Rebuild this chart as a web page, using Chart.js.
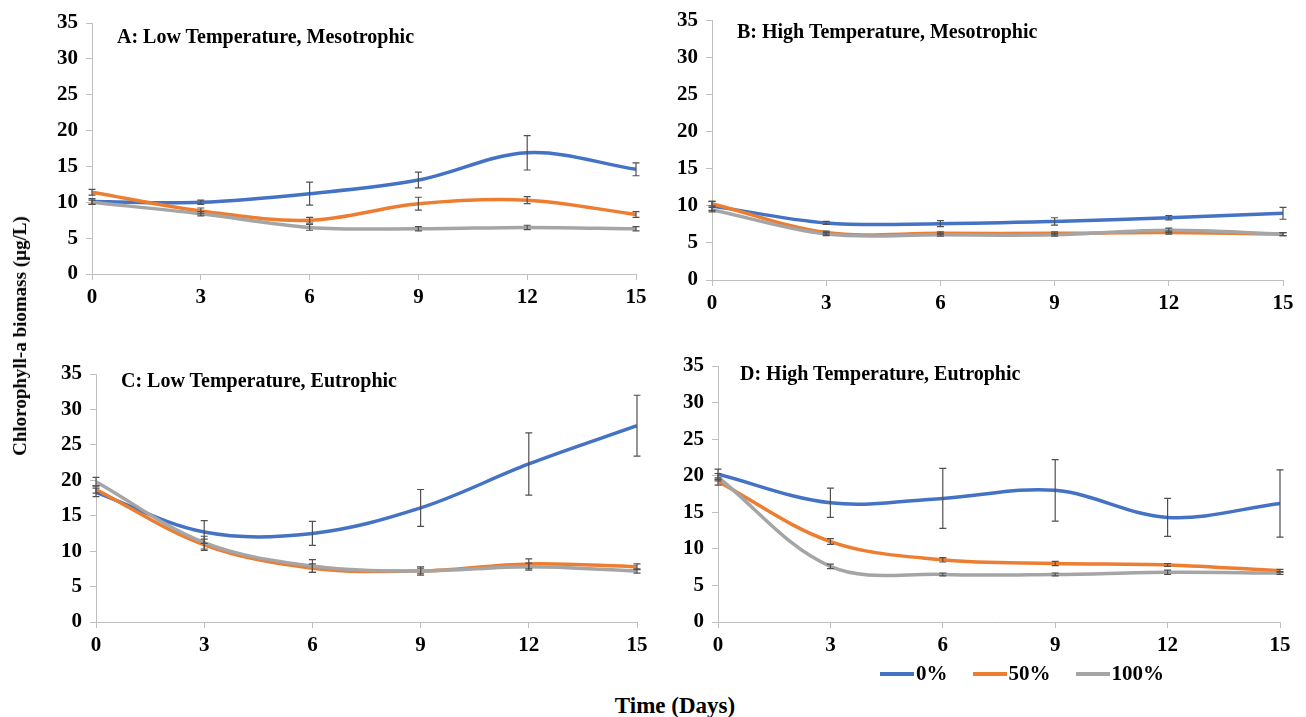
<!DOCTYPE html>
<html>
<head>
<meta charset="utf-8">
<script src="https://cdn.jsdelivr.net/npm/chart.js@4.4.1/dist/chart.umd.min.js"></script>
<style>
  body { margin: 0; background: #fff; width: 1306px; height: 717px; position: relative; overflow: hidden;
         font-family: "Liberation Serif", "Times New Roman", serif; font-weight: bold; color: #000; }
  .panel { position: absolute; }
  .ptitle { position: absolute; font-size: 20px; white-space: nowrap; }
  #ytitle { position: absolute; left: 20px; top: 336px; font-size: 19px; white-space: nowrap;
            transform: translate(-50%, -50%) rotate(-90deg); }
  #xtitle { position: absolute; left: 675px; top: 706px; font-size: 23px; white-space: nowrap;
            transform: translate(-50%, -50%); }
  #legend { position: absolute; left: 880px; top: 661px; font-size: 21px; display: flex; align-items: center; }
  #legend .sw { display: inline-block; width: 34px; height: 4px; margin-right: 2px; }
  #legend .it { display: flex; align-items: center; margin-right: 25px; }
</style>
</head>
<body>
<div class="panel" id="pA" style="left:30px;top:0px;width:630px;height:310px"><canvas id="cA"></canvas></div>
<div class="panel" id="pB" style="left:650px;top:0px;width:656px;height:310px"><canvas id="cB"></canvas></div>
<div class="panel" id="pC" style="left:30px;top:340px;width:630px;height:320px"><canvas id="cC"></canvas></div>
<div class="panel" id="pD" style="left:650px;top:340px;width:656px;height:320px"><canvas id="cD"></canvas></div>

<div class="ptitle" style="left:117px;top:25px">A: Low Temperature, Mesotrophic</div>
<div class="ptitle" style="left:737px;top:20px">B: High Temperature, Mesotrophic</div>
<div class="ptitle" style="left:121px;top:369px">C: Low Temperature, Eutrophic</div>
<div class="ptitle" style="left:740px;top:362px">D: High Temperature, Eutrophic</div>

<div id="ytitle">Chlorophyll-a biomass (µg/L)</div>
<div id="xtitle">Time (Days)</div>
<div id="legend"></div>

<script>
// jours d'échantillonnage
const days = [0, 3, 6, 9, 12, 15];
const seriesNames = ['0%', '50%', '100%'];
const seriesColors = ['#4472C4', '#ED7D31', '#A5A5A5'];
const yTicks = [0, 5, 10, 15, 20, 25, 30, 35];

// A : basse température, mésotrophe
const A_0 = [10.1, 10.0, 11.2, 13.1, 16.9, 14.6];
const A_0err = [0.4, 0.3, 1.6, 1.1, 2.4, 0.9];
const A_50 = [11.4, 8.8, 7.5, 9.8, 10.3, 8.3];
const A_50err = [0.4, 0.4, 0.4, 0.9, 0.5, 0.4];
const A_100 = [10.0, 8.4, 6.5, 6.3, 6.5, 6.3];
const A_100err = [0.3, 0.3, 0.4, 0.3, 0.3, 0.3];

// B : haute température, mésotrophe
const B_0 = [10.0, 7.7, 7.6, 7.9, 8.4, 9.0];
const B_0err = [0.6, 0.2, 0.4, 0.5, 0.3, 0.8];
const B_50 = [10.3, 6.4, 6.3, 6.3, 6.4, 6.2];
const B_50err = [0.3, 0.2, 0.2, 0.2, 0.2, 0.2];
const B_100 = [9.5, 6.2, 6.1, 6.1, 6.7, 6.2];
const B_100err = [0.3, 0.2, 0.2, 0.2, 0.3, 0.2];

// C : basse température, eutrophe
const C_0 = [18.3, 12.7, 12.5, 16.1, 22.3, 27.7];
const C_0err = [0.6, 1.6, 1.7, 2.6, 4.4, 4.3];
const C_50 = [18.7, 10.9, 7.6, 7.2, 8.2, 7.8];
const C_50err = [0.5, 0.8, 0.6, 0.4, 0.7, 0.4];
const C_100 = [19.8, 11.2, 7.9, 7.2, 7.8, 7.2];
const C_100err = [0.6, 0.9, 0.9, 0.6, 0.5, 0.3];

// D : haute température, eutrophe
const D_0 = [20.2, 16.3, 16.9, 18.0, 14.3, 16.2];
const D_0err = [0.7, 2.0, 4.1, 4.2, 2.6, 4.6];
const D_50 = [19.2, 11.0, 8.5, 8.0, 7.8, 7.0];
const D_50err = [0.5, 0.4, 0.3, 0.3, 0.2, 0.2];
const D_100 = [19.8, 7.6, 6.5, 6.5, 6.8, 6.7];
const D_100err = [0.5, 0.3, 0.2, 0.2, 0.3, 0.2];

const FONT = 'Liberation Serif';

// barres d'erreur dessinées par-dessus les courbes
const errorBars = {
    id: 'errorBars',
    afterDatasetsDraw(chart) {
        const ctx = chart.ctx;
        const yScale = chart.scales.y;
        ctx.save();
        ctx.strokeStyle = '#505050';
        ctx.lineWidth = 1.2;
        chart.data.datasets.forEach((ds, i) => {
            const meta = chart.getDatasetMeta(i);
            meta.data.forEach((pt, j) => {
                const v = ds.data[j].y;
                const e = ds.errors[j];
                const x = pt.x;
                const y1 = yScale.getPixelForValue(v - e);
                const y2 = yScale.getPixelForValue(v + e);
                ctx.beginPath();
                ctx.moveTo(x, y1); ctx.lineTo(x, y2);
                ctx.moveTo(x - 3.5, y1); ctx.lineTo(x + 3.5, y1);
                ctx.moveTo(x - 3.5, y2); ctx.lineTo(x + 3.5, y2);
                ctx.stroke();
            });
        });
        ctx.restore();
    }
};

function makePanel(id, vals, errs, box) {
    const datasets = vals.map((arr, i) => ({
        label: seriesNames[i],
        data: arr.map((v, j) => ({ x: days[j], y: v })),
        errors: errs[i],
        borderColor: seriesColors[i],
        borderWidth: 3.5,
        pointRadius: 0,
        tension: 0.35,
        fill: false,
        order: 3 - i
    }));

    new Chart(document.getElementById(id), {
        type: 'line',
        data: { datasets },
        options: {
            responsive: true,
            maintainAspectRatio: false,
            animation: false,
            layout: { padding: { top: box.top, right: box.right, left: 0, bottom: 0 } },
            plugins: { legend: { display: false }, tooltip: { enabled: false } },
            scales: {
                x: {
                    type: 'linear',
                    min: 0, max: 15,
                    afterBuildTicks: (s) => { s.ticks = days.map(v => ({ value: v })); },
                    border: { color: '#BFBFBF', width: 1 },
                    grid: { display: true, drawOnChartArea: false, drawTicks: true, tickLength: 6, color: '#BFBFBF' },
                    ticks: { color: '#000', padding: 5, maxRotation: 0, font: { family: FONT, size: 21, weight: 'bold' } },
                    afterFit: (s) => { s.height = box.xh; }
                },
                y: {
                    min: 0, max: 35,
                    afterBuildTicks: (s) => { s.ticks = yTicks.map(v => ({ value: v })); },
                    border: { color: '#BFBFBF', width: 1 },
                    grid: { display: true, drawOnChartArea: false, drawTicks: true, tickLength: 6, color: '#BFBFBF' },
                    ticks: { color: '#000', padding: 8, font: { family: FONT, size: 21, weight: 'bold' } },
                    afterFit: (s) => { s.width = box.yw; }
                }
            }
        },
        plugins: [errorBars]
    });
}

makePanel('cA', [A_0, A_50, A_100], [A_0err, A_50err, A_100err], { yw: 62, top: 23, right: 24, xh: 36 });
makePanel('cB', [B_0, B_50, B_100], [B_0err, B_50err, B_100err], { yw: 62, top: 20, right: 23, xh: 30 });
makePanel('cC', [C_0, C_50, C_100], [C_0err, C_50err, C_100err], { yw: 66, top: 34, right: 23, xh: 38 });
makePanel('cD', [D_0, D_50, D_100], [D_0err, D_50err, D_100err], { yw: 68, top: 26, right: 26, xh: 38 });

// légende commune
const legend = document.getElementById('legend');
seriesNames.forEach((name, i) => {
    const it = document.createElement('div');
    it.className = 'it';
    it.innerHTML = `<span class="sw" style="background:${seriesColors[i]}"></span><span>${name}</span>`;
    legend.appendChild(it);
});
</script>
</body>
</html>
